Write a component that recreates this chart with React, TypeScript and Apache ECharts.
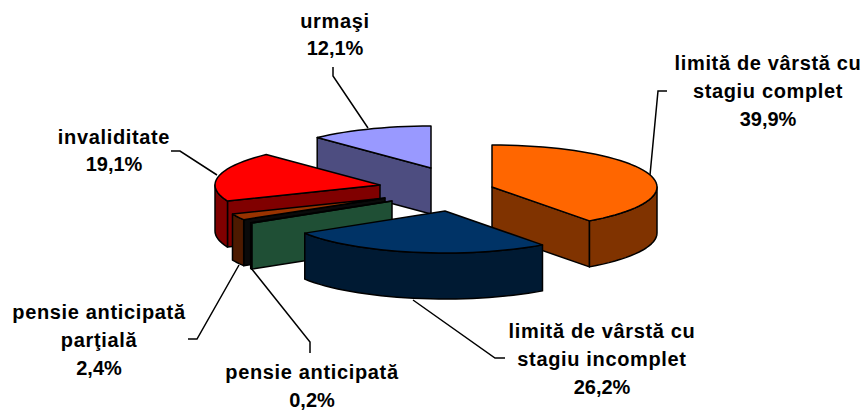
import React, { useEffect, useRef } from "react";
import * as echarts from "echarts";

const categories = [
  "limită de vârstă cu stagiu complet",
  "limită de vârstă cu stagiu incomplet",
  "pensie anticipată",
  "pensie anticipată parţială",
  "invaliditate",
  "urmaşi",
];
const values = [39.9, 26.2, 0.2, 2.4, 19.1, 12.1];
const topColors = ["#FF6600", "#003366", "#2F7F55", "#993300", "#FF0000", "#9999FF"];
const sideColors = ["#803300", "#001A33", "#1F4F35", "#4D1A00", "#800000", "#4D4D80"];
const radialColors = ["#803300", "#001A33", "#1F4F35", "#0A0A0A", "#800000", "#4D4D80"];
const apexes: [number, number][] = [
  [492, 187], [445, 211], [392, 201], [385, 198], [380, 185], [431, 168],
];
const drawOrder = [5, 4, 3, 2, 0, 1];
const RX = 165, RY = 42, DEPTH = 46;

const total = values.reduce((a, b) => a + b, 0);
const starts: number[] = [];
values.reduce((acc, v, i) => { starts[i] = acc; return acc + v; }, 0);

const pt = (c: [number, number], deg: number, dy = 0): number[] => {
  const r = (deg * Math.PI) / 180;
  return [c[0] + RX * Math.sin(r), c[1] - RY * Math.cos(r) + dy];
};
const arcPts = (c: [number, number], a: number, b: number, dy = 0) => {
  const n = Math.max(2, Math.ceil((b - a) / 3));
  const out: number[][] = [];
  for (let i = 0; i <= n; i++) out.push(pt(c, a + ((b - a) * i) / n, dy));
  return out;
};

const labels = [
  { lines: ["limită de vârstă cu", "stagiu complet", "39,9%"], x: 768, y: 91 },
  { lines: ["limită de vârstă cu", "stagiu incomplet", "26,2%"], x: 602, y: 359 },
  { lines: ["pensie anticipată", "0,2%"], x: 312, y: 386 },
  { lines: ["pensie anticipată", "parţială", "2,4%"], x: 99, y: 340 },
  { lines: ["invaliditate", "19,1%"], x: 114, y: 150.5 },
  { lines: ["urmaşi", "12,1%"], x: 335, y: 34.5 },
];
const leaders: number[][][] = [
  [[667, 91], [658, 91], [650, 175]],
  [[413, 300], [495, 358], [505, 358]],
  [[251, 268], [310, 342], [310, 353]],
  [[239, 265], [197, 339], [188, 339]],
  [[171, 151], [180, 151], [217, 175]],
  [[333, 67], [333, 76], [368, 128]],
];

const App = () => {
  const ref = useRef<HTMLDivElement>(null);
  useEffect(() => {
    const chart = echarts.init(ref.current!, undefined, { renderer: "svg" });
    const stroke = { stroke: "#000", lineWidth: 1.5, lineJoin: "round" };
    const graphic: any[] = [];
    leaders.forEach((p) =>
      graphic.push({
        type: "polyline",
        z: 5,
        shape: { points: p },
        style: { stroke: "#000", lineWidth: 1.5, fill: "none" },
      })
    );
    labels.forEach((l) =>
      graphic.push({
        type: "text",
        z: 6,
        x: l.x,
        y: l.y,
        style: {
          text: l.lines.join("\n"),
          fontFamily: "Liberation Sans",
          fontWeight: "bold",
          fontSize: 20,
          lineHeight: 27.7,
          fill: "#000",
          align: "center",
          verticalAlign: "middle",
        },
      })
    );
    chart.setOption({
      animation: false,
      backgroundColor: "#fff",
      graphic,
      series: [
        {
          type: "custom",
          coordinateSystem: "none",
          silent: true,
          data: drawOrder.map((i) => ({ name: categories[i], value: values[i] })),
          encode: { value: 0 },
          renderItem: (params: any, api: any) => {
            const i = drawOrder[params.dataIndex];
            const v = api.value(0);
            const a = (starts[i] / total) * 360;
            const b = a + (v / total) * 360;
            const c = apexes[i];
            const children: any[] = [];
            const poly = (points: number[][], fill: string) =>
              children.push({
                type: "polygon",
                shape: { points },
                style: { fill, ...stroke },
              });
            const bottom: number[] = [c[0], c[1] + DEPTH];
            const radial = (deg: number) => {
              poly([c, pt(c, deg), pt(c, deg, DEPTH), bottom], radialColors[i]);
            };
            // only faces turned towards the viewer are drawn
            if (a > 180 && a < 360) radial(a);
            if (b > 0 && b < 180) radial(b);
            const ra = Math.max(a, 90), rb = Math.min(b, 270);
            if (rb > ra) {
              poly([...arcPts(c, ra, rb), ...arcPts(c, ra, rb, DEPTH).reverse()], sideColors[i]);
            }
            poly([c, ...arcPts(c, a, b)], topColors[i]);
            return { type: "group", children };
          },
        },
      ],
    });
    ref.current!.querySelectorAll("text").forEach((t) => {
      if (!(t.textContent || "").includes("%")) t.style.letterSpacing = "0.65px";
    });
    return () => chart.dispose();
  }, []);
  return <div ref={ref} style={{ position: "fixed", left: 0, top: 0, width: 862, height: 411 }} />;
};
export default App;
